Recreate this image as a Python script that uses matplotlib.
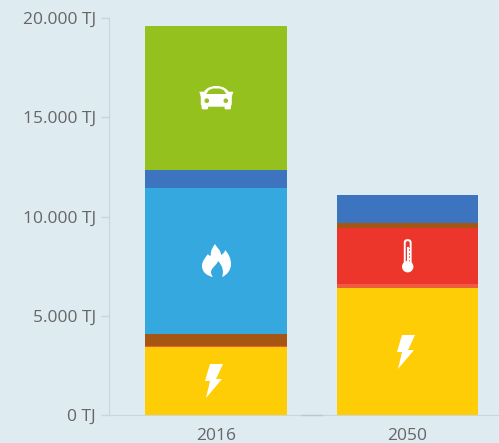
"""Stacked energy demand bars, 2016 vs 2050, with white sector icons."""
import matplotlib
matplotlib.use("Agg")
import matplotlib.pyplot as plt
from matplotlib.patches import Circle, Ellipse, FancyBboxPatch, PathPatch, Polygon
from matplotlib.path import Path

years = ["2016", "2050"]
yticks = [0, 5000, 10000, 15000, 20000]
ytick_labels = ["0 TJ", "5.000 TJ", "10.000 TJ", "15.000 TJ", "20.000 TJ"]

# stacked bottom to top
strom = [3430, 6400]
umwelt = [50, 200]
waerme = [0, 2820]
biomasse = [600, 250]
gas = [7356, 0]
oel = [906, 1410]
verkehr = [7255, 0]

stack = [strom, umwelt, waerme, biomasse, gas, oel, verkehr]
colors = ["#ffcd05", "#ee5b3d", "#ec362b", "#a65512", "#35a8e0", "#3c74bf", "#95c11f"]

BG = "#deebf1"
AXIS = "#cbd6dc"
TEXT = "#666666"

plt.rcParams["font.family"] = ["Open Sans", "DejaVu Sans"]
fig = plt.figure(figsize=(4.99, 4.43), dpi=100, facecolor=BG)
ax = fig.add_axes([109 / 499, 1 - 415 / 443, 390 / 499, 397 / 443], facecolor=BG)

bottom = [0, 0]
for vals, c in zip(stack, colors):
    ax.bar([0, 1], vals, width=0.74, bottom=bottom, color=c, linewidth=0, zorder=3)
    bottom = [b + v for b, v in zip(bottom, vals)]

ax.set_xlim(-0.559, 1.478)
ax.set_ylim(0, 20000)
ax.set_xticks([0, 1], years)
ax.set_yticks(yticks, ytick_labels)
ax.tick_params(axis="x", length=0, pad=9, labelsize=12.5, labelcolor=TEXT)
ax.tick_params(axis="y", length=6, width=1, color=AXIS, pad=3.5, labelsize=12.5, labelcolor=TEXT)
ax.spines[["top", "right"]].set_visible(False)
ax.spines[["left", "bottom"]].set_color(AXIS)

# overlay in image pixels, only for the icons
ov = fig.add_axes([0, 0, 1, 1], facecolor="none")
ov.set_xlim(0, 499)
ov.set_ylim(443, 0)
ov.axis("off")
ov.plot([302, 322], [415, 415], color="#bcc8ce", lw=1)


def bolt(cx, cy):
    pts = [(-5, -17), (8, -17), (1, -2), (7, -2), (-9, 17), (-5, 0), (-10, 0)]
    ov.add_patch(Polygon([(cx + x, cy + y) for x, y in pts], color="white", lw=0))


def flame(cx, cy):
    M, C, Z = Path.MOVETO, Path.CURVE4, Path.CLOSEPOLY
    pts = [(-1, -17), (1, -13), (5, -11), (5, -6),
           (7, -7), (9, -9), (9, -11),
           (13, -7), (15, -2), (15, 3),
           (15, 9), (11, 14), (6, 16),
           (8, 11), (7, 5), (2, 0),
           (1, 4), (-5, 7), (-5, 11),
           (-5, 13), (-4, 15), (-3, 16),
           (-9, 15), (-14, 11), (-14, 5),
           (-14, 0), (-11, -3), (-8, -7),
           (-7, -5), (-6, -5), (-5, -6),
           (-6, -10), (-3, -14), (-1, -17),
           (-1, -17)]
    codes = [M] + [C] * (len(pts) - 2) + [Z]
    ov.add_patch(PathPatch(Path([(cx + x, cy + y) for x, y in pts], codes), color="white", lw=0))


def car(cx, cy, hole):
    ov.add_patch(FancyBboxPatch((cx - 15.5, cy - 5), 31, 14, boxstyle="round,pad=0,rounding_size=3",
                                color="white", lw=0))
    ov.add_patch(Polygon([(cx - 17, cy - 6), (cx + 17, cy - 6), (cx + 15.5, cy - 1), (cx - 15.5, cy - 1)],
                         color="white", lw=0))
    ov.add_patch(Ellipse((cx, cy - 3), 26, 17.5, color="white", lw=0))
    ov.add_patch(Polygon([(cx - 10, cy - 3.7), (cx - 7.5, cy - 7.5), (cx - 3.5, cy - 9.2), (cx + 3.5, cy - 9.2),
                          (cx + 7.5, cy - 7.5), (cx + 10, cy - 3.7)], color=hole, lw=0))
    for dx in (-14.7, 8.2):
        ov.add_patch(FancyBboxPatch((cx + dx, cy + 7), 6.5, 4.7, boxstyle="round,pad=0,rounding_size=1.5",
                                    color="white", lw=0))
    for dx in (-9.5, 9.5):
        ov.add_patch(Circle((cx + dx, cy + 3), 2.3, color=hole, lw=0))


def thermometer(cx, cy, hole):
    ov.add_patch(FancyBboxPatch((cx - 3.9, cy - 16.5), 7.8, 27, boxstyle="round,pad=0,rounding_size=3.5",
                                color="white", lw=0))
    ov.add_patch(FancyBboxPatch((cx - 2, cy - 14.5), 4, 22, boxstyle="round,pad=0,rounding_size=1.8",
                                color=hole, lw=0))
    ov.add_patch(Polygon([(cx - 0.3, cy - 9), (cx + 1, cy - 9), (cx + 1, cy + 8), (cx - 0.3, cy + 8)],
                         color="white", lw=0))
    for dy in (-8, -4.5, -1, 2.5):
        ov.add_patch(Polygon([(cx - 0.3, dy + cy), (cx + 2, dy + cy), (cx + 2, dy + cy + 1.7),
                              (cx - 0.3, dy + cy + 1.7)], color="white", lw=0))
    ov.add_patch(Circle((cx, cy + 11), 5.7, color="white", lw=0))


bolt(215, 381)
bolt(407, 352)
flame(216, 261)
car(216.3, 97.7, colors[6])
thermometer(407.7, 255.7, colors[2])

fig.savefig("out.png", dpi=100, facecolor=BG)
